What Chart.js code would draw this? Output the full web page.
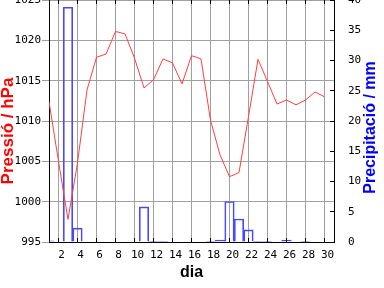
<!DOCTYPE html>
<html><head><meta charset="utf-8">
<script src="https://cdn.jsdelivr.net/npm/chart.js@4.4.1/dist/chart.umd.min.js"></script>
<style>
html,body{margin:0;padding:0;background:#fff;overflow:hidden}
#wrap{position:relative;width:384px;height:288px;overflow:hidden;background:#fff}
canvas{position:absolute;left:0;top:0}
</style></head>
<body><div id="wrap"><canvas id="c" width="384" height="288"></canvas></div>
<script>
const days = [1,2,3,4,5,6,7,8,9,10,11,12,13,14,15,16,17,18,19,20,21,22,23,24,25,26,27,28,29,30];
const pressure = [1012.4,1005.0,997.8,1004.8,1013.85,1017.9,1018.3,1021.1,1020.8,1017.8,1014.1,1015.1,1017.7,1017.2,1014.6,1018.1,1017.7,1010.1,1005.8,1003.1,1003.6,1010.55,1017.65,1014.9,1012.1,1012.6,1012.0,1012.6,1013.6,1013.0];
const precipitation = [0.2,0,38.8,2.3,0,0,0,0,0,0,5.8,0.1,0.1,0,0,0,0,0.1,0.3,6.7,3.8,2.0,0.1,0.1,0,0.3,0,0.1,0,0];
const dayTicks = [2,4,6,8,10,12,14,16,18,20,22,24,26,28,30];
const pressureTicks = [995,1000,1005,1010,1015,1020,1025];
const precipTicks = [0,5,10,15,20,25,30,35,40];
const xTitle = 'dia';
const pressureTitle = 'Pressió / hPa';
const precipTitle = 'Precipitació / mm';

const tickFont = {family: '"DejaVu Sans Mono"', size: 11};

function align(px){ return Math.round(px - 0.5) + 0.5; }

function drawRotated(ctx, text, x, y, font, color) {
  ctx.save();
  ctx.translate(x, y);
  ctx.rotate(-Math.PI / 2);
  ctx.font = font;
  ctx.fillStyle = color;
  ctx.textAlign = 'center';
  ctx.textBaseline = 'middle';
  ctx.fillText(text, 0, 0);
  ctx.restore();
}

const framePlugin = {
  id: 'frame',
  afterDraw(chart) {
    const {ctx, chartArea: a, scales} = chart;
    const x = scales.x, y2 = scales.y2;
    ctx.save();
    ctx.strokeStyle = '#000';
    ctx.lineWidth = 1;
    ctx.beginPath();
    x.ticks.forEach(t => {
      const px = align(x.getPixelForValue(t.value));
      ctx.moveTo(px, a.bottom); ctx.lineTo(px, a.bottom - 4);
      ctx.moveTo(px, a.top); ctx.lineTo(px, a.top + 4);
    });
    y2.ticks.forEach(t => {
      const py = align(y2.getPixelForValue(t.value));
      ctx.moveTo(a.right, py); ctx.lineTo(a.right - 4, py);
    });
    ctx.stroke();
    ctx.restore();
    drawRotated(ctx, pressureTitle, 8, 131, 'bold 17px "Liberation Sans"', '#ff0000');
    drawRotated(ctx, precipTitle, 370.5, 127.5, 'bold 16px "Liberation Sans"', '#0000ff');
  }
};

new Chart(document.getElementById('c'), {
  type: 'line',
  data: {
    datasets: [
      {
        type: 'line',
        data: days.map((d, i) => ({x: d, y: pressure[i]})),
        xAxisID: 'x', yAxisID: 'y',
        borderColor: '#ff4040', borderWidth: 1,
        pointRadius: 0, tension: 0, fill: false
      },
      {
        type: 'bar',
        data: days.map((d, i) => ({x: d, y: precipitation[i] > 0 ? precipitation[i] : null})),
        xAxisID: 'x', yAxisID: 'y2',
        backgroundColor: 'rgba(0,0,0,0)',
        borderColor: '#4848ff', borderWidth: 1,
        barPercentage: 1, categoryPercentage: 1
      }
    ]
  },
  options: {
    responsive: false,
    animation: false,
    devicePixelRatio: 1,
    layout: {padding: 0},
    plugins: {legend: {display: false}, tooltip: {enabled: false}},
    scales: {
      x: {
        type: 'linear', position: 'bottom', min: 1, max: 31,
        offset: false,
        afterBuildTicks: s => { s.ticks = dayTicks.map(v => ({value: v})); },
        afterFit: s => { s.height = 46; s.paddingLeft = 0; s.paddingRight = 0; },
        grid: {color: '#a0a0a0', lineWidth: 1, drawTicks: false, offset: false},
        border: {display: true, color: '#000', width: 1},
        ticks: {font: tickFont, color: '#000', padding: 7, labelOffset: 3, maxRotation: 0, autoSkip: false, callback: v => String(v)},
        title: {display: true, text: xTitle, color: '#000', font: {family: '"Liberation Sans"', size: 16, weight: 'bold'}, padding: {top: 0, bottom: 6}}
      },
      y: {
        type: 'linear', position: 'left', min: 995, max: 1025,
        afterBuildTicks: s => { s.ticks = pressureTicks.map(v => ({value: v})); },
        afterFit: s => { s.width = 49; s.paddingTop = 0; s.paddingBottom = 0; },
        grid: {color: '#a0a0a0', lineWidth: 1, drawTicks: true, tickLength: 7},
        border: {display: true, color: '#000', width: 1},
        ticks: {font: tickFont, color: '#000', padding: 1, callback: v => String(v)}
      },
      y2: {
        type: 'linear', position: 'right', min: 0, max: 40,
        afterBuildTicks: s => { s.ticks = precipTicks.map(v => ({value: v})); },
        afterFit: s => { s.width = 50; s.paddingTop = 0; s.paddingBottom = 0; },
        grid: {drawOnChartArea: false, drawTicks: false},
        border: {display: true, color: '#000', width: 1},
        ticks: {font: tickFont, color: '#000', padding: 14, callback: v => String(v)}
      }
    }
  },
  plugins: [framePlugin]
});
</script>
</body></html>
